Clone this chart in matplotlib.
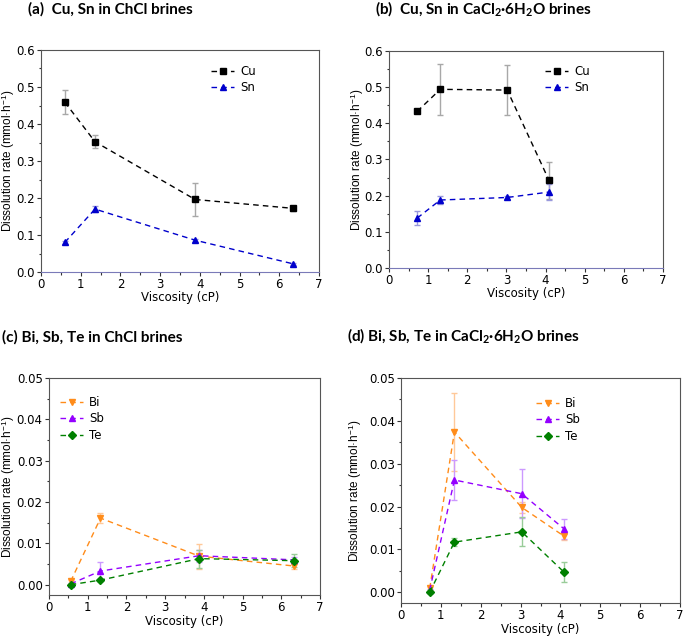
import matplotlib
matplotlib.use("Agg")
import matplotlib.pyplot as plt
from matplotlib.ticker import MultipleLocator, FormatStrFormatter

# ---- data ----
visc_chcl = [0.60, 1.36, 3.88, 6.35]
cu_chcl = [0.459, 0.352, 0.196, 0.172]
cu_chcl_err = [0.032, 0.017, 0.045, 0.006]
sn_chcl = [0.080, 0.170, 0.086, 0.022]
sn_chcl_err = [0.003, 0.008, 0.004, 0.003]

visc_cacl = [0.72, 1.31, 3.02, 4.09]
cu_cacl = [0.433, 0.494, 0.492, 0.242]
cu_cacl_err = [0.004, 0.070, 0.068, 0.050]
sn_cacl = [0.138, 0.188, 0.195, 0.210]
sn_cacl_err = [0.019, 0.012, 0.004, 0.022]

visc_chcl2 = [0.56, 1.33, 3.88, 6.34]
bi_chcl = [0.0008, 0.0161, 0.0069, 0.0045]
bi_chcl_err = [0.0004, 0.0013, 0.0030, 0.0007]
sb_chcl = [0.0002, 0.0033, 0.0070, 0.0060]
sb_chcl_err = [0.0002, 0.0023, 0.0015, 0.0008]
te_chcl = [0.0000, 0.0011, 0.0063, 0.0058]
te_chcl_err = [0.0001, 0.0003, 0.0022, 0.0015]

visc_cacl2 = [0.72, 1.34, 3.03, 4.09]
bi_cacl = [0.0009, 0.0374, 0.0198, 0.0131]
bi_cacl_err = [0.0003, 0.0090, 0.0012, 0.0008]
sb_cacl = [0.0005, 0.0262, 0.0230, 0.0148]
sb_cacl_err = [0.0003, 0.0047, 0.0057, 0.0023]
te_cacl = [0.0000, 0.0117, 0.0141, 0.0047]
te_cacl_err = [0.0002, 0.0010, 0.0034, 0.0023]

titles = ["(a)  Cu, Sn in ChCl brines",
          "(b)  Cu, Sn in CaCl$_2$·6H$_2$O brines",
          "(c) Bi, Sb, Te in ChCl brines",
          "(d) Bi, Sb, Te in CaCl$_2$·6H$_2$O brines"]

C_CU, C_SN = "#000000", "#0000CC"
C_BI, C_SB, C_TE = "#FF8C1A", "#9400FF", "#008000"
E_CU, E_SN = "#A8A8A8", "#9999DD"
E_BI, E_SB, E_TE = "#FFC999", "#CC99FF", "#99CC99"

plt.rcParams["font.family"] = ["DejaVu Sans"]
plt.rcParams["mathtext.fontset"] = "custom"
plt.rcParams["mathtext.rm"] = "Lato:bold"
plt.rcParams["mathtext.it"] = "Lato:bold"
plt.rcParams["mathtext.bf"] = "Lato:bold"

W, H = 685, 641
fig = plt.figure(figsize=(W / 100, H / 100), dpi=100)

boxes = [(41, 50, 319, 272), (389, 51, 663, 268),
         (49, 378, 320, 595), (401, 378, 680, 603)]
ylab_x = [8, 357, 8, 355]
xlab_off = [26, 26, 26, 26]

axes = []
for (x0, y0, x1, y1) in boxes:
    axes.append(fig.add_axes([x0 / W, 1 - y1 / H, (x1 - x0) / W, (y1 - y0) / H]))

def series(ax, x, y, e, col, ecol, mk, lab, ms=5):
    ax.errorbar(x, y, yerr=e, fmt="none", ecolor=ecol, elinewidth=1.0,
                capsize=2.5, capthick=1.0, zorder=2)
    ax.plot(x, y, ls=(0, (4, 3)), color=col, marker=mk, ms=ms,
            lw=1.0, label=lab, zorder=3)

series(axes[0], visc_chcl, cu_chcl, cu_chcl_err, C_CU, E_CU, "s", "Cu")
series(axes[0], visc_chcl, sn_chcl, sn_chcl_err, C_SN, E_SN, "^", "Sn")
series(axes[1], visc_cacl, cu_cacl, cu_cacl_err, C_CU, E_CU, "s", "Cu")
series(axes[1], visc_cacl, sn_cacl, sn_cacl_err, C_SN, E_SN, "^", "Sn")
series(axes[2], visc_chcl2, bi_chcl, bi_chcl_err, C_BI, E_BI, "v", "Bi")
series(axes[2], visc_chcl2, sb_chcl, sb_chcl_err, C_SB, E_SB, "^", "Sb")
series(axes[2], visc_chcl2, te_chcl, te_chcl_err, C_TE, E_TE, "D", "Te", ms=4.5)
series(axes[3], visc_cacl2, bi_cacl, bi_cacl_err, C_BI, E_BI, "v", "Bi")
series(axes[3], visc_cacl2, sb_cacl, sb_cacl_err, C_SB, E_SB, "^", "Sb")
series(axes[3], visc_cacl2, te_cacl, te_cacl_err, C_TE, E_TE, "D", "Te", ms=4.5)

for i, ax in enumerate(axes):
    x0, y0, x1, y1 = boxes[i]
    ax.set_xlim(0, 7)
    ax.xaxis.set_major_locator(MultipleLocator(1))
    ax.xaxis.set_minor_locator(MultipleLocator(0.5))
    if i < 2:
        ax.set_ylim(0, 0.6)
        ax.yaxis.set_major_locator(MultipleLocator(0.1))
        ax.yaxis.set_minor_locator(MultipleLocator(0.05))
        ax.yaxis.set_major_formatter(FormatStrFormatter("%.1f"))
    else:
        ax.set_ylim(-0.0025, 0.05)
        ax.yaxis.set_major_locator(MultipleLocator(0.01))
        ax.yaxis.set_minor_locator(MultipleLocator(0.005))
        ax.yaxis.set_major_formatter(FormatStrFormatter("%.2f"))
    ax.tick_params(which="both", direction="out", top=False, right=False,
                   labelsize=8.5, color="#333333", width=0.8, pad=1.5)
    ax.tick_params(which="major", length=3)
    ax.tick_params(which="minor", length=1.8)
    for name, sp in ax.spines.items():
        sp.set_color("#555555")
        sp.set_linewidth(0.8)
    if i < 2:
        ax.spines["bottom"].set_color("#7A7AB8")
    ax.set_xlabel("Viscosity (cP)", fontsize=8.5, va="center")
    ax.xaxis.set_label_coords(0.5, -xlab_off[i] / (y1 - y0))
    ax.set_ylabel("Dissolution rate (mmol·h$^{\\mathregular{-1}}$)", fontsize=8.5,
                  va="center", family=["Liberation Sans", "DejaVu Sans"])
    ax.yaxis.set_label_coords((ylab_x[i] - x0) / (x1 - x0), 0.5)

leg_kw = dict(frameon=False, fontsize=8.5, handlelength=2.0, handletextpad=0.5,
              labelspacing=0.3, borderaxespad=0.0)
axes[0].legend(loc="upper left", bbox_to_anchor=((206 - 41) / 278, (272 - 60) / 222), **leg_kw)
axes[1].legend(loc="upper left", bbox_to_anchor=((540 - 389) / 274, (268 - 60) / 217), **leg_kw)
axes[2].legend(loc="upper left", bbox_to_anchor=((55 - 49) / 271, (595 - 391) / 217), **leg_kw)
axes[3].legend(loc="upper left", bbox_to_anchor=((531 - 401) / 279, (603 - 392) / 225), **leg_kw)

title_pos = [(28, 9), (375, 9), (2, 337), (347, 336)]
for t, (x, y) in zip(titles, title_pos):
    fig.text(x / W, 1 - y / H, t, fontsize=11, fontweight="bold",
             family=["Lato", "DejaVu Sans"], va="center", ha="left")

fig.savefig("out.png", dpi=100)
